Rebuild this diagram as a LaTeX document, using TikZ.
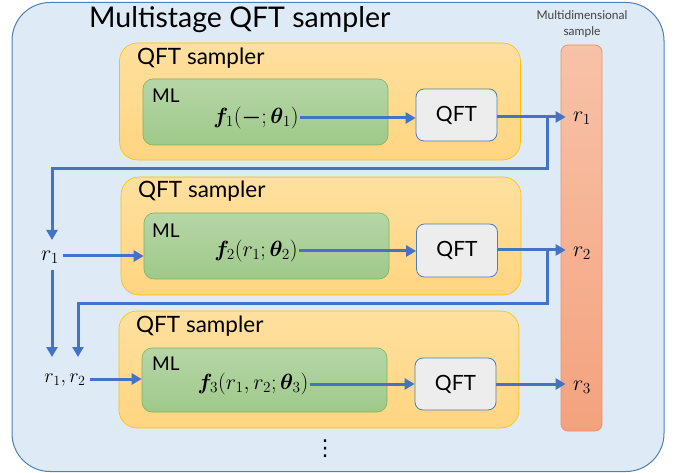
\RequirePackage{fix-cm}
\documentclass[tikz,border=0pt]{standalone}
\usepackage{amsmath,bm}
\usepackage{fontspec}
\setmainfont{Lato}
\newfontfamily\symfam{DejaVu Sans}
\usetikzlibrary{arrows.meta}
\definecolor{outerfill}{HTML}{DEEBF7}
\definecolor{outerline}{HTML}{4F7FB5}
\definecolor{ylwtop}{HTML}{FFE09F}
\definecolor{ylwbot}{HTML}{FFD580}
\definecolor{ylwline}{HTML}{FFC000}
\definecolor{grntop}{HTML}{B6D6A7}
\definecolor{grnbot}{HTML}{9FC98A}
\definecolor{grnline}{HTML}{7DB45A}
\definecolor{qftfill}{HTML}{EDEDED}
\definecolor{qftline}{HTML}{4F7FB5}
\definecolor{bartop}{HTML}{F8C2A8}
\definecolor{barbot}{HTML}{F4A27E}
\definecolor{barline}{HTML}{F0915F}
\definecolor{arrowblue}{HTML}{4472C4}
\begin{document}
\begin{tikzpicture}[x=1pt,y=-1pt,
  outerbox/.style={draw=outerline,line width=1pt,fill=outerfill,rounded corners=38pt,inner sep=0pt},
  samplerbox/.style={draw=ylwline,line width=0.6pt,top color=ylwtop,bottom color=ylwbot,rounded corners=18pt,inner sep=0pt,minimum width=400pt,minimum height=117pt},
  mlbox/.style={draw=grnline,line width=0.6pt,top color=grntop,bottom color=grnbot,rounded corners=10pt,inner sep=0pt,minimum width=245pt},
  qftbox/.style={draw=qftline,line width=0.8pt,fill=qftfill,rounded corners=8pt,inner sep=0pt,minimum width=81pt,font=\fontsize{21}{24}\selectfont},
  barbox/.style={draw=barline,line width=0.8pt,top color=bartop,bottom color=barbot,rounded corners=7pt,inner sep=0pt},
  lbl/.style={inner sep=1pt,font=\fontsize{22.5}{26}\selectfont},
  mllbl/.style={inner sep=1pt,font=\fontsize{19}{22}\selectfont},
  mathlbl/.style={inner sep=1pt,font=\fontsize{22}{24}\selectfont},
  arr/.style={draw=arrowblue,line width=3pt,-{Triangle[length=10pt,width=11pt]}},
  ln/.style={draw=arrowblue,line width=3pt}
]
\useasboundingbox (0,0) rectangle (675,473);
% outer
\node[outerbox,minimum width=652pt,minimum height=469pt] (outer) at (338,237) {};
\node[inner sep=0pt,anchor=west,font=\fontsize{28.5}{32}\selectfont] (title) at (89,20) {Multistage QFT sampler};
\node[inner sep=0pt,align=center,text=black!75,font=\fontsize{12}{15.5}\selectfont] (mdlabel) at (582,24) {Multidimensional\\sample};
% bar
\node[barbox,minimum width=41pt,minimum height=386pt] (bar) at (581.5,238) {};
% samplers
\node[samplerbox,minimum width=401pt] (s1) at (320,101.5) {};
\node[samplerbox,minimum width=400pt,minimum height=118pt] (s2) at (321,236) {};
\node[samplerbox,minimum width=400pt] (s3) at (319,369.5) {};
\node[lbl,anchor=west] (s1l) at (136,58) {QFT sampler};
\node[lbl,anchor=west] (s2l) at (137,191) {QFT sampler};
\node[lbl,anchor=west] (s3l) at (135,326) {QFT sampler};
% ML boxes
\node[mlbox,minimum height=66pt] (g1) at (265.5,112) {};
\node[mlbox,minimum height=66pt] (g2) at (266.5,246) {};
\node[mlbox,minimum height=64pt] (g3) at (264.5,380) {};
\node[mllbl,anchor=west] (g1l) at (151,96) {ML};
\node[mllbl,anchor=west] (g2l) at (151,231) {ML};
\node[mllbl,anchor=west] (g3l) at (151,364) {ML};
% formulas
\node[mathlbl] (f1) at (256,118) {$\bm{f}_1(\bm{-};\bm{\theta}_1)$};
\node[mathlbl] (f2) at (256,251) {$\bm{f}_2(r_1;\bm{\theta}_2)$};
\node[mathlbl] (f3) at (253,384) {$\bm{f}_3(r_1,r_2;\bm{\theta}_3)$};
% QFT boxes
\node[qftbox,minimum height=52pt] (q1) at (456.5,115) {QFT};
\node[qftbox,minimum height=53pt] (q2) at (457,250.5) {QFT};
\node[qftbox,minimum height=52pt] (q3) at (455.5,384) {QFT};
% outputs
\node[mathlbl] (o1) at (582,118) {$r_1$};
\node[mathlbl] (o2) at (582,253) {$r_2$};
\node[mathlbl] (o3) at (582,387) {$r_3$};
% inputs
\node[mathlbl] (i1) at (50,257) {$r_1$};
\node[mathlbl,font=\fontsize{20}{22}\selectfont] (i2) at (65,380) {$r_1,r_2$};
% dots
\node[inner sep=0pt,font=\symfam\fontsize{22}{22}\selectfont] (dots) at (325,449) {⋮};
% coordinates
\coordinate (j1) at (547,117);
\coordinate (j2) at (547,250);
\coordinate (c1) at (52,169);
\coordinate (c2) at (78,303);
\coordinate (t1) at (52,240);
\coordinate (b1) at (52,270);
\coordinate (e1) at (52,357);
\coordinate (e2) at (78,357);
% arrows
\draw[arr] (f1.east) -- (q1.west |- f1.east);
\draw[arr] (f2.east) -- (q2.west |- f2.east);
\draw[arr] (f3.east) -- (q3.west |- f3.east);
\draw[arr] (q1.east |- j1) -- ([xshift=5pt]bar.west |- j1);
\draw[arr] (q2.east |- j2) -- ([xshift=5pt]bar.west |- j2);
\draw[arr] (q3.east |- f3.east) -- ([xshift=5pt]bar.west |- f3.east);
\draw[arr] (j1) |- (c1) -- (t1);
\draw[arr] (j2) |- (c2) -- (e2);
\draw[arr] (b1) -- (e1);
\draw[arr] ([xshift=3pt]i1.east |- 0,256) -- (g2.west |- 0,256);
\draw[arr] ([xshift=3pt]i2.east |- 0,379) -- (g3.west |- 0,379);
\end{tikzpicture}
\end{document}
